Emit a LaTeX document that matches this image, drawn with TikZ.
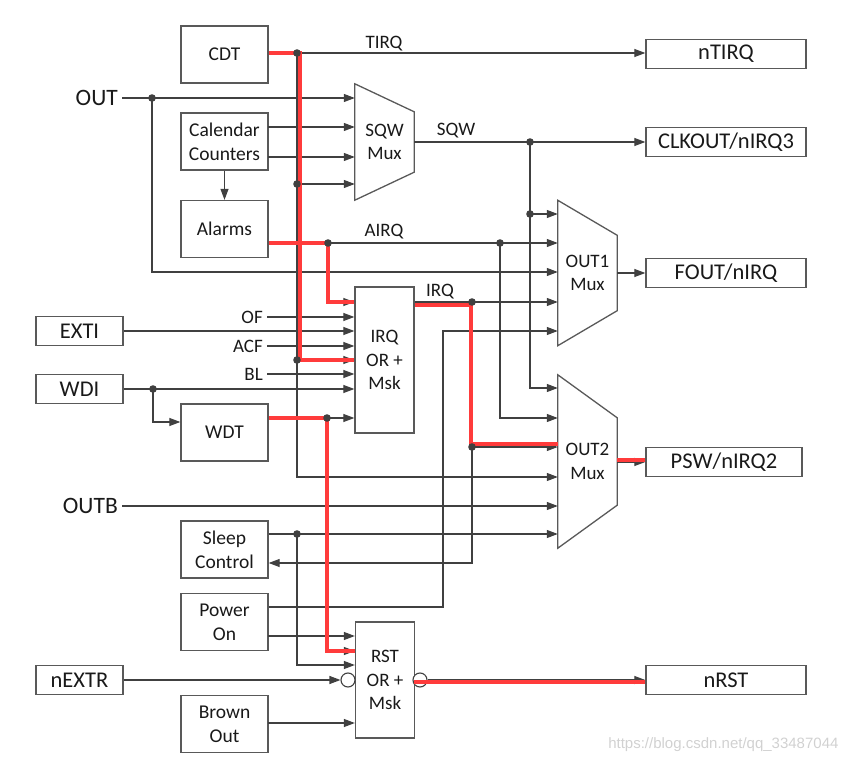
\documentclass[tikz,border=0pt]{standalone}
\usepackage{fontspec}
\setmainfont{Carlito}
\newfontfamily\wmfont{Liberation Sans}
\usepackage{tikz}
\usetikzlibrary{calc,arrows.meta}
\definecolor{hotred}{HTML}{FF3B3B}
\definecolor{wire}{HTML}{404040}
\definecolor{edge}{HTML}{595959}

\begin{document}
\begin{tikzpicture}[x=1pt,y=-1pt,
      blk/.style={
            draw=edge, line width=1.3pt, text=black!90,
            minimum width=87pt, minimum height=57pt, inner sep=0pt,
            align=center, font=\fontsize{19.5}{24}\selectfont
        },
      pinbox/.style={blk, minimum height=29pt, font=\fontsize{22.5}{24}\selectfont},
      outbox/.style={pinbox, minimum width=160pt},
      orbox/.style={blk, minimum width=59pt, font=\fontsize{19}{23.5}\selectfont},
      muxbox/.style={
            minimum width=59pt, inner sep=0pt, align=center,
            text=black!90, font=\fontsize{19}{23.5}\selectfont
        },
      lbl/.style={text=black!90, font=\fontsize{19}{22}\selectfont, inner sep=4pt},
      biglbl/.style={lbl, font=\fontsize{23.5}{24}\selectfont},
      sig/.style={draw=wire, line width=1.1pt},
      hot/.style={draw=hotred, line width=4pt},
      bub/.style={circle, draw=wire, line width=1.1pt, fill=white, minimum size=14pt, inner sep=0pt},
      >={Triangle[length=11pt,width=8pt]}
      ]
    \useasboundingbox (0,0) rectangle (847,762);

    % blocks
    \node[blk] (CDT) at (224.5,54.5) {CDT};
    \node[blk] (cal) at (224.5,141.5) {Calendar\\Counters};
    \node[blk] (alarm) at (224.5,229) {Alarms};
    \node[blk] (wdt) at (224.5,432.5) {WDT};
    \node[blk] (sleep) at (224.5,549.5) {Sleep\\Control};
    \node[blk] (pwr) at (224.5,622) {Power\\On};
    \node[blk] (brown) at (224.5,724) {Brown\\Out};
    \node[pinbox] (exti) at (79.5,331) {EXTI};
    \node[pinbox] (wdi) at (79.5,389) {WDI};
    \node[pinbox] (nextr) at (79.5,680) {nEXTR};
    \node[outbox] (ntirq) at (726,54) {nTIRQ};
    \node[outbox] (clk) at (726,142) {CLKOUT/nIRQ3};
    \node[outbox] (fout) at (726,273) {FOUT/nIRQ};
    \node[outbox, minimum width=156pt] (psw) at (724,462) {PSW/nIRQ2};
    \node[outbox] (nrst) at (726,680) {nRST};
    \node[orbox, minimum height=146pt] (irq) at (384.5,360) {IRQ\\OR +\\Msk};
    \node[orbox, minimum height=116pt] (rst) at (385,680) {RST\\OR +\\Msk};
    \node[muxbox, minimum height=116pt] (sqw) at (384.5,142) {SQW\\Mux};
    \node[muxbox, minimum height=145pt] (out1) at (587.5,273) {OUT1\\Mux};
    \node[muxbox, minimum height=173pt] (out2) at (587.5,461.5) {OUT2\\Mux};

    \foreach \m/\d in {sqw/28,out1/35,out2/43}
      \draw[draw=edge, line width=1.3pt] (\m.north west) -- ($(\m.north east)+(0,\d)$)
        -- ($(\m.south east)-(0,\d)$) -- (\m.south west) -- cycle;

    % labels
    \node[biglbl, anchor=east] (out) at (122,98) {OUT};
    \node[biglbl, anchor=east] (outb) at (122,506) {OUTB};
    \node[lbl] (tirqlbl) at (384,44) {TIRQ};
    \node[lbl] (sqwlbl) at (456,131) {SQW};
    \node[lbl] (airqlbl) at (384,232) {AIRQ};
    \node[lbl] (irqlbl) at (440,292) {IRQ};
    \node[lbl, anchor=east] (of) at (267,317) {OF};
    \node[lbl, anchor=east] (acf) at (267,346) {ACF};
    \node[lbl, anchor=east] (bl) at (267,374) {BL};

    % junctions
    \coordinate (tj) at (297,53);
    \coordinate (tj2) at (297,184);
    \coordinate (tj3) at (297,360);
    \coordinate (tj4) at (297,477);
    \coordinate (oj) at (152,98);
    \coordinate (oj2) at (152,272);
    \coordinate (c1) at (268,127);
    \coordinate (c2) at (268,157);
    \coordinate (sj) at (530,142);
    \coordinate (sj2) at (530,214);
    \coordinate (sj3) at (530,388);
    \coordinate (aj) at (328,243);
    \coordinate (aj2) at (500,243);
    \coordinate (aj3) at (500,418);
    \coordinate (aj4) at (328,302);
    \coordinate (wj) at (153,389);
    \coordinate (wj2) at (153,422);
    \coordinate (dj) at (327,418);
    \coordinate (dj2) at (327,651);
    \coordinate (ij) at (472,302);
    \coordinate (ij2) at (472,447);
    \coordinate (ij3) at (472,563);
    \coordinate (lj) at (297,534);
    \coordinate (lj2) at (297,665);
    \coordinate (pj) at (443,607);
    \coordinate (pj2) at (443,331);
    \coordinate (p2) at (268,636);
    \coordinate (b1) at (268,723);

    \node[bub] (nb) at (348,680) {};
    \node[bub] (rb) at (420,680) {};

    % wires
    \draw[sig,->] (CDT.east |- tj) -- (tj) -- (tj -| ntirq.west);
    \draw[sig,->] (tj) -- (tj4) -- (tj4 -| out2.west);
    \draw[sig,->] (tj2) -- (tj2 -| sqw.west);
    \draw[sig,->] (tj3) -- (tj3 -| irq.west);

    \draw[sig,->] (out.east) -- (out.east -| sqw.west);
    \draw[sig,->] (oj) -- (oj2) -- (oj2 -| out1.west);
    \draw[sig,->] (c1) -- (c1 -| sqw.west);
    \draw[sig,->] (c2) -- (c2 -| sqw.west);
    \draw[sig,->] (cal) -- (alarm);

    \draw[sig,->] (sqw.east) -- (sj) -- (sj -| clk.west);
    \draw[sig,->] (sj) -- (sj3) -- (sj3 -| out2.west);
    \draw[sig,->] (sj2) -- (sj2 -| out1.west);

    \draw[sig,->] (alarm.east |- aj) -- (aj2) -- (aj2 -| out1.west);
    \draw[sig,->] (aj) -- (aj4) -- (aj4 -| irq.west);
    \draw[sig,->] (aj2) -- (aj3) -- (aj3 -| out2.west);

    \draw[sig,->] (of.east) -- (of.east -| irq.west);
    \draw[sig,->] (exti.east) -- (exti.east -| irq.west);
    \draw[sig,->] (acf.east) -- (acf.east -| irq.west);
    \draw[sig,->] (bl.east) -- (bl.east -| irq.west);
    \draw[sig,->] (wdi.east) -- (wdi.east -| irq.west);
    \draw[sig,->] (wj) -- (wj2) -- (wdt.west |- wj2);

    \draw[sig,->] (wdt.east |- dj) -- (dj) -- (dj -| irq.west);
    \draw[sig,->] (dj) -- (dj2) -- (dj2 -| rst.west);

    \draw[sig,->] (irq.east |- ij) -- (ij) -- (ij -| out1.west);
    \draw[sig,->] (ij) -- (ij3) -- (ij3 -| sleep.east);
    \draw[sig,->] (ij2) -- (ij2 -| out2.west);

    \draw[sig,->] (outb.east) -- (outb.east -| out2.west);
    \draw[sig,->] (sleep.east |- lj) -- (lj) -- (lj -| out2.west);
    \draw[sig,->] (lj) -- (lj2) -- (lj2 -| rst.west);
    \draw[sig,->] (pwr.east |- pj) -- (pj) -- (pj2) -- (pj2 -| out1.west);
    \draw[sig,->] (p2) -- (p2 -| rst.west);
    \draw[sig,->] (nextr.east) -- (nb.west);
    \draw[sig,->] (b1) -- (b1 -| rst.west);
    \draw[sig,->] (rb.east) -- (nrst.west);

    \draw[sig,->] (out1.east) -- (fout.west);
    \draw[sig,->] (out2.east |- psw.west) -- (psw.west);

    % highlighted path
    \draw[hot] (CDT.east |- tj) -| ($(tj3)+(3,0)$) -- (irq.west |- tj3);
    \draw[hot] (alarm.east |- aj) -| (aj4) -- (aj4 -| irq.west);
    \draw[hot] ($(irq.east |- ij)+(0,3)$) -| ($(ij2)+(-1,-3)$) -- ($(ij2 -| out2.west)+(0,-3)$);
    \draw[hot] ($(out2.east |- psw.west)+(0,-2)$) -- ($(psw.west)+(0,-2)$);
    \draw[hot] (wdt.east |- dj) -| (dj2) -- (dj2 -| rst.west);
    \draw[hot] ($(rst.east)+(-1,2)$) -- ($(nrst.west)+(0,2)$);

    \foreach \p in {tj,tj2,tj3,oj,sj,sj2,aj,aj2,wj,dj,ij,ij2,lj}
      \fill[wire] (\p) circle (3.8pt);

    \node[text=black!18, font=\wmfont\fontsize{15}{18}\selectfont, anchor=east] (wm)
      at (842,745) {https://blog.csdn.net/qq\_33487044};
\end{tikzpicture}
\end{document}
